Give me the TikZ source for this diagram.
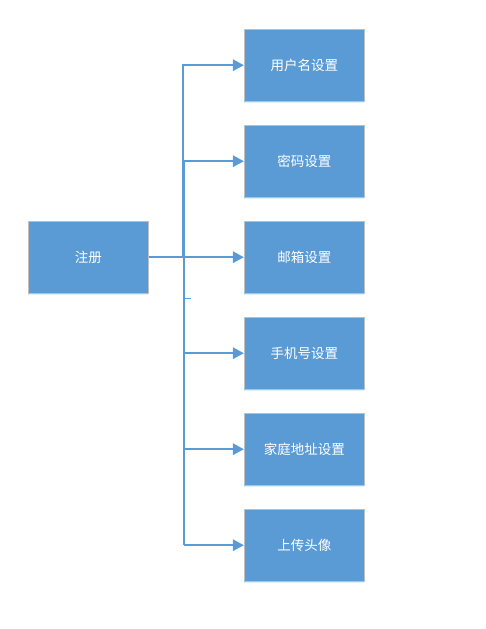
\documentclass[tikz,border=0pt]{standalone}
\usepackage{fontspec}
\newfontfamily\cjk{Noto Sans CJK SC}
\usetikzlibrary{arrows.meta,shadows}
\definecolor{boxblue}{HTML}{5B9BD5}
\definecolor{boxedge}{HTML}{BFBFBF}
\definecolor{lineblue}{HTML}{5B9BD5}
\tikzset{
  box/.style={draw=boxedge, line width=0.9pt, fill=boxblue, minimum width=120pt, minimum height=71.5pt,
    inner sep=0pt, text=white, font=\cjk\fontsize{13.5}{15}\selectfont,
    drop shadow={shadow xshift=0pt, shadow yshift=-2.5pt, fill=boxblue!25, opacity=0.6}},
  conn/.style={draw=lineblue, line width=1.6pt},
  arr/.style={conn, -{Triangle[length=11pt,width=11.5pt]}}
}
\begin{document}
\begin{tikzpicture}[x=1pt,y=-1pt]
\useasboundingbox (0,0) rectangle (485,629);
\node[box] (reg) at (88.3,257.2) {注册};
\node[box] (b1) at (304.3,65.2) {用户名设置};
\node[box] (b2) at (304.3,161.2) {密码设置};
\node[box] (b3) at (304.3,257.2) {邮箱设置};
\node[box] (b4) at (304.3,353.2) {手机号设置};
\node[box] (b5) at (304.3,449.2) {家庭地址设置};
\node[box] (b6) at (304.3,545.2) {上传头像};
\coordinate (j1) at (183,257.2);
\coordinate (jt) at (184,161.2);
\coordinate (jb) at (184,545.2);
\coordinate (tk1) at (184,298);
\coordinate (tk2) at (191,298);
\draw[arr] (reg.east) -- (j1) |- (b1.west);
\draw[conn] (jt) -- (jb);
\draw[conn, line width=1pt] (tk1) -- (tk2);
\draw[arr] (jt) -- (b2.west);
\draw[arr] (reg.east -| jt) -- (b3.west);
\draw[arr] (b4.west -| jt) -- (b4.west);
\draw[arr] (b5.west -| jt) -- (b5.west);
\draw[arr] (jb) -- (b6.west);
\end{tikzpicture}
\end{document}
